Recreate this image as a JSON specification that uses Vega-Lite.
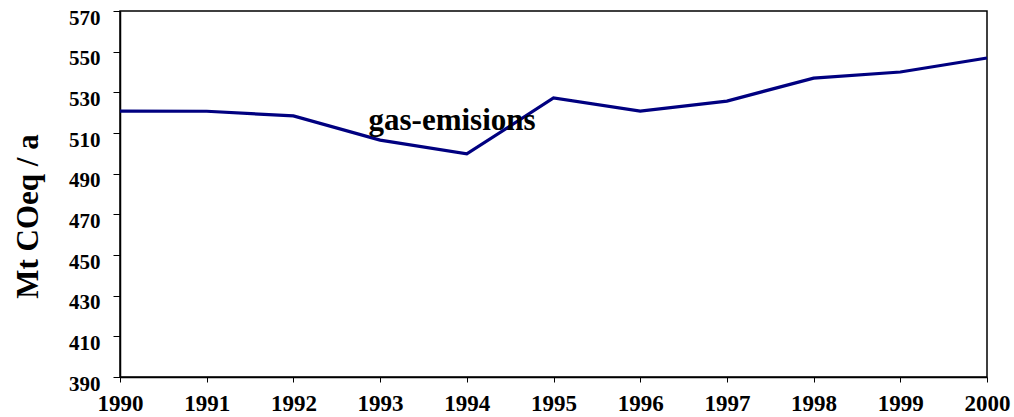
{
  "$schema": "https://vega.github.io/schema/vega-lite/v6.json",
  "width": 867,
  "height": 366,
  "autosize": "none",
  "padding": {"left": 120, "top": 11, "right": 27, "bottom": 40},
  "background": "white",
  "config": {
    "view": {"stroke": "black", "strokeWidth": 1.5},
    "font": "Liberation Serif, Times New Roman, serif"
  },
  "data": {
    "values": [
      {"year": 1990, "value": 520.8},
      {"year": 1991, "value": 520.7},
      {"year": 1992, "value": 518.4},
      {"year": 1993, "value": 506.5},
      {"year": 1994, "value": 499.7},
      {"year": 1995, "value": 527.2},
      {"year": 1996, "value": 520.8},
      {"year": 1997, "value": 525.7},
      {"year": 1998, "value": 537.0},
      {"year": 1999, "value": 540.0},
      {"year": 2000, "value": 546.9}
    ]
  },
  "layer": [
    {
      "mark": {"type": "line", "color": "#000080", "strokeWidth": 3.2},
      "encoding": {
        "x": {
          "field": "year", "type": "quantitative",
          "scale": {"domain": [1990, 2000], "nice": false, "zero": false},
          "axis": {
            "values": [1990,1991,1992,1993,1994,1995,1996,1997,1998,1999,2000],
            "format": "d", "title": null, "grid": false,
            "domainColor": "black", "domainWidth": 1.5,
            "tickColor": "black", "tickSize": 5, "tickWidth": 1,
            "labelFont": "Liberation Serif, Times New Roman, serif", "labelFontWeight": "bold",
            "labelFontSize": 23, "labelColor": "black", "labelPadding": 10,
            "labelBaseline": "top",
            "labelFlush": false
          }
        },
        "y": {
          "field": "value", "type": "quantitative",
          "scale": {"domain": [390, 570], "nice": false, "zero": false},
          "axis": {
            "values": [390,410,430,450,470,490,510,530,550,570],
            "title": "Mt COeq / a", "grid": false,
            "domainColor": "black", "domainWidth": 1.5,
            "tickColor": "black", "tickSize": 7, "tickWidth": 1,
            "labelFont": "Liberation Serif, Times New Roman, serif", "labelFontWeight": "bold",
            "labelFontSize": 21, "labelColor": "black", "labelPadding": 13,
            "labelOffset": 7,
            "titleFont": "Liberation Serif, Times New Roman, serif", "titleFontWeight": "bold",
            "titleFontSize": 31, "titleColor": "black",
            "titleX": -92, "titleY": 205, "titleAngle": 270,
            "titleAlign": "center", "titleBaseline": "middle"
          }
        }
      }
    },
    {
      "data": {"values": [{"year": 1993.83, "value": 511.5, "label": "gas-emisions"}]},
      "mark": {"type": "text", "font": "Liberation Serif, Times New Roman, serif", "fontWeight": "bold", "fontSize": 31, "color": "black", "baseline": "alphabetic", "align": "center"},
      "encoding": {
        "x": {"field": "year", "type": "quantitative"},
        "y": {"field": "value", "type": "quantitative"},
        "text": {"field": "label"}
      }
    }
  ]
}
